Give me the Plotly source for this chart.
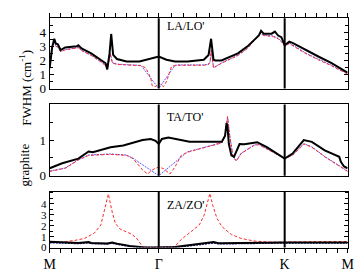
import plotly.graph_objects as go

# ---- path nodes (M - Gamma - K - M), |Gamma M| = 1 ----
path_nodes = [0.0, 1.0, 2.1547, 2.7321]
path_labels = ["M", "Γ", "K", "M"]
minor_divisions = [10, 10, 6]

# ---- LA/LO' ----
la_black_k = [0, 0.022, 0.042, 0.056, 0.075, 0.100, 0.142, 0.204, 0.248, 0.263, 0.292, 0.381, 0.469,
              0.513, 0.528, 0.549, 0.564, 0.582, 0.617, 0.705, 0.823, 0.912, 1.0, 1.071, 1.148, 1.265,
              1.413, 1.457, 1.480, 1.502, 1.520, 1.575, 1.726, 1.814, 1.918, 1.938, 1.962, 2.035, 2.065,
              2.095, 2.124, 2.155, 2.197, 2.227, 2.345, 2.463, 2.581, 2.732]
la_black = [1.47, 2.9, 3.54, 3.2, 3.15, 2.74, 2.92, 2.97, 3.0, 3.07, 2.85, 2.5, 2.05,
            1.8, 1.36, 2.5, 3.88, 2.4, 2.1, 1.93, 1.93, 2.1, 2.28, 2.05, 1.93, 1.93,
            2.05, 2.39, 3.54, 2.05, 2.0, 2.0, 2.5, 3.0, 3.77, 4.1, 3.9, 3.9, 4.05,
            3.77, 3.65, 3.08, 3.33, 3.25, 2.74, 2.28, 1.82, 1.13]

la_red_k = [0, 0.022, 0.042, 0.056, 0.075, 0.100, 0.142, 0.204, 0.248, 0.263, 0.292, 0.381, 0.469,
            0.513, 0.528, 0.549, 0.555, 0.575, 0.617, 0.705, 0.838, 0.881, 0.926, 0.940, 0.973, 1.0,
            1.044, 1.074, 1.103, 1.118, 1.177, 1.413, 1.457, 1.471, 1.482, 1.502, 1.531, 1.575, 1.726,
            1.814, 1.930, 1.962, 2.046, 2.095, 2.139, 2.155, 2.197, 2.345, 2.463, 2.581, 2.732]
la_red = [1.4, 2.8, 3.43, 3.0, 2.95, 2.62, 2.75, 2.8, 2.85, 2.9, 2.7, 2.35, 1.9,
          1.63, 1.36, 2.1, 2.5, 1.82, 1.72, 1.68, 1.63, 1.47, 0.78, 0.2, 0.14, 0.39,
          0.14, 0.55, 1.36, 1.59, 1.66, 1.66, 1.72, 1.9, 2.74, 1.47, 1.6, 1.8, 2.35,
          2.85, 3.9, 3.77, 3.7, 3.54, 3.2, 2.97, 3.2, 2.5, 2.05, 1.63, 1.03]

la_blue_k = [0, 0.022, 0.042, 0.056, 0.075, 0.100, 0.142, 0.204, 0.248, 0.263, 0.292, 0.381, 0.469,
             0.513, 0.528, 0.549, 0.555, 0.575, 0.617, 0.705, 0.838, 1.0, 1.148, 1.177, 1.413, 1.457,
             1.471, 1.482, 1.502, 1.531, 1.575, 1.726, 1.814, 1.930, 1.962, 2.046, 2.095, 2.139, 2.155,
             2.197, 2.345, 2.463, 2.581, 2.732]
la_blue = [1.42, 2.82, 3.45, 3.02, 2.97, 2.64, 2.77, 2.82, 2.87, 2.92, 2.72, 2.37, 1.92,
           1.65, 1.38, 2.1, 2.5, 1.84, 1.74, 1.7, 1.65, 0.0, 1.65, 1.68, 1.68, 1.74,
           1.92, 2.7, 1.5, 1.62, 1.82, 2.38, 2.88, 3.93, 3.8, 3.74, 3.58, 3.25, 3.02,
           3.24, 2.54, 2.09, 1.67, 1.07]

# ---- TA/TO' ----
ta_black_k = [0, 0.115, 0.263, 0.357, 0.396, 0.558, 0.675, 0.852, 0.927, 0.971, 1.0, 1.029, 1.088,
              1.206, 1.283, 1.578, 1.608, 1.622, 1.631, 1.643, 1.666, 1.690, 1.741, 1.785, 1.903,
              1.991, 2.080, 2.155, 2.227, 2.330, 2.404, 2.522, 2.655, 2.670, 2.699, 2.732]
ta_black = [0.21, 0.35, 0.48, 0.68, 0.66, 0.8, 0.85, 1.0, 1.03, 0.98, 0.89, 1.03, 1.07,
            1.0, 0.95, 0.95, 1.12, 1.48, 1.35, 0.89, 0.57, 0.53, 0.89, 0.88, 0.94,
            0.8, 0.62, 0.48, 0.62, 1.0, 0.95, 0.71, 0.53, 0.39, 0.26, 0.21]

ta_red_k = [0, 0.144, 0.263, 0.357, 0.558, 0.705, 0.764, 0.852, 0.897, 0.940, 0.971, 1.0, 1.044,
            1.103, 1.148, 1.206, 1.265, 1.578, 1.608, 1.631, 1.652, 1.681, 1.711, 1.755, 1.873,
            1.917, 1.991, 2.155, 2.227, 2.330, 2.404, 2.522, 2.640, 2.732]
ta_red = [0.12, 0.21, 0.44, 0.57, 0.6, 0.57, 0.48, 0.16, 0.05, 0.16, 0.21, 0.24, 0.2,
          0.05, 0.24, 0.57, 0.66, 0.92, 1.1, 1.66, 1.1, 0.53, 0.41, 0.62, 0.85,
          0.87, 0.75, 0.48, 0.57, 0.89, 0.8, 0.53, 0.3, 0.12]

ta_blue_k = [0, 0.144, 0.263, 0.357, 0.558, 0.705, 0.764, 1.0, 1.236, 1.265, 1.578, 1.608, 1.631,
             1.652, 1.681, 1.711, 1.755, 1.873, 1.917, 1.991, 2.155, 2.227, 2.330, 2.404, 2.522,
             2.640, 2.732]
ta_blue = [0.13, 0.22, 0.45, 0.58, 0.61, 0.58, 0.49, 0.0, 0.6, 0.67, 0.93, 1.1, 1.64,
           1.1, 0.54, 0.42, 0.63, 0.86, 0.88, 0.76, 0.49, 0.58, 0.9, 0.81, 0.54,
           0.31, 0.13]

# ---- ZA/ZO' ----
za_red_k = [0, 0.115, 0.233, 0.321, 0.410, 0.469, 0.498, 0.538, 0.573, 0.602, 0.646, 0.705, 0.750,
            0.794, 0.823, 0.852, 0.912, 1.0, 1.088, 1.148, 1.206, 1.281, 1.372, 1.416, 1.445, 1.469,
            1.496, 1.534, 1.578, 1.666, 1.755, 1.873, 2.020, 2.155, 2.504, 2.732]
za_red = [0.5, 0.5, 0.66, 0.84, 1.33, 2.07, 3.26, 4.9, 3.26, 2.22, 1.69, 1.42, 1.24,
          0.89, 0.44, 0.09, 0.0, 0.0, 0.0, 0.1, 0.74, 1.33, 2.07, 2.96, 4.0, 4.95,
          3.85, 2.67, 1.93, 1.19, 0.84, 0.6, 0.5, 0.5, 0.52, 0.56]

za_black_k = [0, 0.115, 0.263, 0.357, 0.381, 0.528, 0.573, 0.617, 0.735, 0.85, 1.0, 1.148, 1.281,
              1.407, 1.504, 1.549, 1.80, 2.155, 2.732]
za_black = [0.54, 0.5, 0.42, 0.5, 0.42, 0.38, 0.47, 0.36, 0.15, 0.02, 0.0, 0.05, 0.21,
            0.39, 0.5, 0.39, 0.45, 0.47, 0.47]

za_blue_k = [0, 0.115, 0.263, 0.357, 0.381, 0.528, 0.573, 0.617, 0.735, 0.85, 1.0, 1.148, 1.281,
             1.407, 1.504, 1.549, 1.80, 2.155, 2.732]
za_blue = [0.45, 0.43, 0.37, 0.43, 0.37, 0.33, 0.4, 0.31, 0.11, 0.01, 0.0, 0.03, 0.16,
           0.33, 0.43, 0.34, 0.4, 0.42, 0.43]

panels = [
    ("LA/LO'", la_black_k, la_black, la_red_k, la_red, la_blue_k, la_blue, [0, 5], [0, 1, 2, 3, 4], 13),
    ("TA/TO'", ta_black_k, ta_black, ta_red_k, ta_red, ta_blue_k, ta_blue, [0, 2], [0, 1], 13),
    ("ZA/ZO'", za_black_k, za_black, za_red_k, za_red, za_blue_k, za_blue, [0, 5.1], [0, 1, 2, 3, 4], 11),
]

W, H = 364, 277
x_px = (37, 346)
panel_px = [(10.5, 83.0), (99.3, 172.7), (189.3, 246.7)]

minor_vals = []
for (a, b), n in zip(zip(path_nodes[:-1], path_nodes[1:]), minor_divisions):
    for i in range(1, n):
        minor_vals.append(a + (b - a) * i / n)

FONT = "Liberation Serif"
fig = go.Figure()
layout = dict(width=W, height=H, autosize=False, margin=dict(l=0, r=0, t=0, b=0),
              paper_bgcolor="white", plot_bgcolor="white", showlegend=False,
              font=dict(family=FONT, size=13, color="black"))
shapes = []
annotations = []

for i, (label, bk, bv, rk, rv, uk, uv, yr, yt, yfs) in enumerate(panels):
    n = "" if i == 0 else str(i + 1)
    xa, ya = "x" + n, "y" + n
    fig.add_trace(go.Scatter(x=uk, y=uv, mode="lines", xaxis=xa, yaxis=ya,
                             line=dict(color="rgb(90,90,255)" if i < 2 else "rgb(20,20,140)",
                                       width=1 if i < 2 else 1.5, dash="2px,1px")))
    fig.add_trace(go.Scatter(x=rk, y=rv, mode="lines", xaxis=xa, yaxis=ya,
                             line=dict(color="rgb(255,40,40)", width=1, dash="3px,2px")))
    fig.add_trace(go.Scatter(x=bk, y=bv, mode="lines", xaxis=xa, yaxis=ya,
                             line=dict(color="black", width=2)))
    top, bot = panel_px[i]
    xaxis = dict(domain=[x_px[0] / W, x_px[1] / W], range=[path_nodes[0], path_nodes[-1]],
                 anchor=ya, showline=True, linecolor="black", linewidth=1, mirror=True,
                 showgrid=False, zeroline=False, tickvals=path_nodes, ticktext=path_labels,
                 tickfont=dict(family=FONT, size=14))
    if i == 0:
        xaxis.update(side="top", ticks="outside", ticklen=4, tickcolor="black", showticklabels=False,
                     minor=dict(tickvals=minor_vals, ticks="outside", ticklen=4, tickcolor="black"))
    elif i == 2:
        xaxis.update(side="bottom", ticks="outside", ticklen=4, tickcolor="black", showticklabels=True,
                     minor=dict(tickvals=minor_vals, ticks="outside", ticklen=4, tickcolor="black"))
    else:
        xaxis.update(ticks="", showticklabels=False)
    layout["xaxis" + n] = xaxis
    layout["yaxis" + n] = dict(domain=[1 - bot / H, 1 - top / H], range=yr, anchor=xa,
                               showline=True, linecolor="black", linewidth=1, mirror="ticks",
                               showgrid=False, zeroline=False, tickvals=yt, ticks="inside",
                               ticklen=4, tickcolor="black", tickfont=dict(family=FONT, size=yfs),
                               minor=dict(dtick=0.5, ticks="inside", ticklen=3, tickcolor="black"))
    for xv in path_nodes[1:3]:
        shapes.append(dict(type="line", xref=xa, yref=ya + " domain", x0=xv, x1=xv, y0=0, y1=1,
                           line=dict(color="black", width=2)))
    annotations.append(dict(text=label, xref="paper", yref="paper", x=157 / W,
                            y=1 - [19, 112.5, 203][i] / H, xanchor="left", yanchor="middle",
                            showarrow=False, font=dict(family=FONT, size=12, color="black")))

annotations.append(dict(text="FWHM (cm<sup>-1</sup>)", xref="paper", yref="paper", x=12 / W,
                        y=1 - 82.5 / H, textangle=-90, showarrow=False, xanchor="center",
                        yanchor="middle", font=dict(family=FONT, size=13, color="black")))
annotations.append(dict(text="graphite", xref="paper", yref="paper", x=11 / W, y=1 - 161.5 / H,
                        textangle=-90, showarrow=False, xanchor="center", yanchor="middle",
                        font=dict(family=FONT, size=13, color="black")))

layout["shapes"] = shapes
layout["annotations"] = annotations
fig.update_layout(**layout)
fig.write_html("out.html")
